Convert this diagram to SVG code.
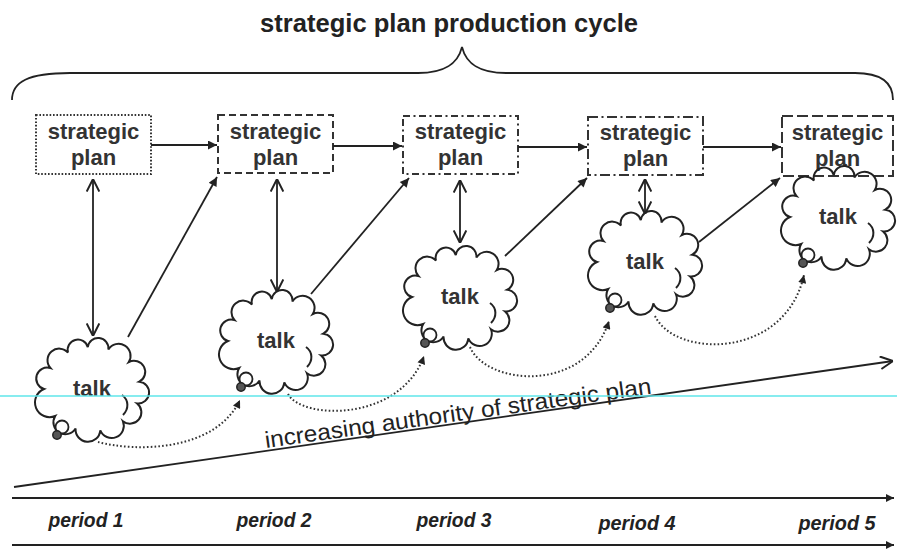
<svg xmlns="http://www.w3.org/2000/svg" width="897" height="550" viewBox="0 0 897 550">
<style>
.ln{stroke:#222;stroke-width:1.8;fill:none}
.dot{stroke:#333;stroke-width:2;fill:none;stroke-dasharray:1.6 2.2}
.box{fill:none;stroke:#333;stroke-width:2}
.cl{fill:none;stroke:#222;stroke-width:2}
.bt{font-family:"Liberation Sans",Arial,sans-serif;font-weight:bold;font-size:22px;fill:#333;text-anchor:middle}
.pt{font-family:"Liberation Sans",Arial,sans-serif;font-weight:bold;font-style:italic;font-size:21px;fill:#222;text-anchor:middle}
.tt{font-family:"Liberation Sans",Arial,sans-serif;font-weight:bold;font-size:25px;fill:#222;text-anchor:middle}
.it{font-family:"Liberation Sans",Arial,sans-serif;font-size:23px;fill:#222}
</style>
<defs>
<marker id="af" viewBox="0 0 10 10" refX="10" refY="5" markerUnits="userSpaceOnUse" markerWidth="11" markerHeight="9" orient="auto"><path d="M0,0 L10,5 L0,10 Z" fill="#222"/></marker>
<marker id="ao" viewBox="0 0 10 10" refX="10" refY="5" markerUnits="userSpaceOnUse" markerWidth="14" markerHeight="14" orient="auto-start-reverse"><path d="M1,0.5 L10,5 L1,9.5" fill="none" stroke="#222" stroke-width="1.4"/></marker>
<marker id="ad" viewBox="0 0 10 10" refX="10" refY="5" markerUnits="userSpaceOnUse" markerWidth="9" markerHeight="8" orient="auto"><path d="M0,0 L10,5 L0,10 Z" fill="#222"/></marker>
<g id="cloud">
<path class="cl" d="M -48 0 A 10 10 0 0 1 -41.6 -21 A 10 10 0 0 1 -24 -36.4 A 10 10 0 0 1 -4.2 -41.8 A 10 10 0 0 1 16.4 -39.5 A 10 10 0 0 1 36.8 -27 A 10 10 0 0 1 47.3 -7.3 A 10 10 0 0 1 45.1 14.4 A 10 10 0 0 1 30.9 32.2 A 10 10 0 0 1 8.3 41.4 A 10 10 0 0 1 -16.4 39.5 A 10 10 0 0 1 -36.8 27 A 10 10 0 0 1 -48 0 Z"/>
<path class="cl" d="M 30 6 C 37 11, 37 20, 31 26"/>
<circle cx="-30" cy="38" r="6.5" fill="#fff" stroke="#222" stroke-width="1.8"/>
<circle cx="-35" cy="46" r="4.2" fill="#555" stroke="#222" stroke-width="1.5"/>
</g>
</defs>
<rect width="897" height="550" fill="#fff"/>

<g id="title">
<text class="tt" x="449" y="32" textLength="378" lengthAdjust="spacingAndGlyphs">strategic plan production cycle</text>
<path class="ln" d="M 12 100 C 12 82, 28 73, 70 73 L 418 73 C 446 73, 458 63, 462 47 C 466 63, 478 73, 506 73 L 855 73 C 880 73, 893 82, 893 100"/>
</g>

<g id="plan1"><rect class="box" x="36" y="115" width="115" height="59" style="stroke-dasharray:1.6 1.8"/><text class="bt" x="93.5" y="139">strategic</text><text class="bt" x="93.5" y="165">plan</text></g>
<g id="plan2"><rect class="box" x="218" y="115" width="115" height="58" style="stroke-dasharray:7 4"/><text class="bt" x="275.5" y="139">strategic</text><text class="bt" x="275.5" y="165">plan</text></g>
<g id="plan3"><rect class="box" x="403" y="116" width="115" height="58" style="stroke-dasharray:7 3.5 2 3.5"/><text class="bt" x="460.5" y="139">strategic</text><text class="bt" x="460.5" y="165">plan</text></g>
<g id="plan4"><rect class="box" x="588" y="117" width="115" height="58" style="stroke-dasharray:10 3.5 2 3.5"/><text class="bt" x="645.5" y="140">strategic</text><text class="bt" x="645.5" y="166">plan</text></g>
<g id="plan5"><rect class="box" x="782" y="116" width="111" height="60" style="stroke-dasharray:11 4"/><text class="bt" x="837.5" y="140">strategic</text><text class="bt" x="837.5" y="166">plan</text></g>

<g id="talk1" transform="translate(92,389)"><use href="#cloud"/><text class="bt" x="0" y="7">talk</text></g>
<g id="talk2" transform="translate(276,341)"><use href="#cloud"/><text class="bt" x="0" y="7">talk</text></g>
<g id="talk3" transform="translate(460,297)"><use href="#cloud"/><text class="bt" x="0" y="7">talk</text></g>
<g id="talk4" transform="translate(645,262)"><use href="#cloud"/><text class="bt" x="0" y="7">talk</text></g>
<g id="talk5" transform="translate(838,217)"><use href="#cloud"/><text class="bt" x="0" y="7">talk</text></g>

<g id="connectors">
<line class="ln" x1="151" y1="145" x2="217" y2="145" marker-end="url(#af)"/>
<line class="ln" x1="333" y1="146" x2="402" y2="146" marker-end="url(#af)"/>
<line class="ln" x1="518" y1="147" x2="587" y2="147" marker-end="url(#af)"/>
<line class="ln" x1="703" y1="147" x2="781" y2="147" marker-end="url(#af)"/>

<line class="ln" x1="128" y1="337" x2="217" y2="177" marker-end="url(#af)"/>
<line class="ln" x1="311" y1="294" x2="409" y2="178" marker-end="url(#af)"/>
<line class="ln" x1="505" y1="256" x2="587" y2="178" marker-end="url(#af)"/>
<line class="ln" x1="699" y1="242" x2="780" y2="178" marker-end="url(#af)"/>

<line class="ln" x1="93" y1="179" x2="93" y2="336" marker-start="url(#ao)" marker-end="url(#ao)"/>
<line class="ln" x1="277" y1="179" x2="277" y2="292" marker-start="url(#ao)" marker-end="url(#ao)"/>
<line class="ln" x1="460" y1="180" x2="460" y2="243" marker-start="url(#ao)" marker-end="url(#ao)"/>
<line class="ln" x1="645" y1="179" x2="645" y2="214" marker-start="url(#ao)" marker-end="url(#ao)"/>

<path class="dot" d="M 98 442 C 135 452, 215 452, 240 400" marker-end="url(#ad)"/>
<path class="dot" d="M 288 394 C 302 420, 400 422, 424 356" marker-end="url(#ad)"/>
<path class="dot" d="M 470 347 C 486 385, 585 395, 609 321" marker-end="url(#ad)"/>
<path class="dot" d="M 655 316 C 675 358, 785 360, 804 275" marker-end="url(#ad)"/>

<line class="ln" x1="14" y1="487" x2="893" y2="361" stroke-width="2.2" marker-end="url(#ao)"/>
<line class="ln" x1="12" y1="498" x2="894" y2="498" stroke-width="2.2" marker-end="url(#ad)"/>
<line class="ln" x1="12" y1="545" x2="894" y2="545" stroke-width="2.2" marker-end="url(#ad)"/>
</g>

<g id="labels">
<text class="it" x="266" y="448" transform="rotate(-8 266 448)" textLength="390" lengthAdjust="spacingAndGlyphs">increasing authority of strategic plan</text>
<text class="pt" x="86" y="527" textLength="75" lengthAdjust="spacingAndGlyphs">period 1</text>
<text class="pt" x="274" y="527" textLength="75" lengthAdjust="spacingAndGlyphs">period 2</text>
<text class="pt" x="454" y="527" textLength="75" lengthAdjust="spacingAndGlyphs">period 3</text>
<text class="pt" x="637" y="530" textLength="77" lengthAdjust="spacingAndGlyphs">period 4</text>
<text class="pt" x="837" y="530" textLength="77" lengthAdjust="spacingAndGlyphs">period 5</text>
</g>

<line x1="0" y1="396" x2="897" y2="396" stroke="#5fe6ea" stroke-width="1.5"/>
</svg>
